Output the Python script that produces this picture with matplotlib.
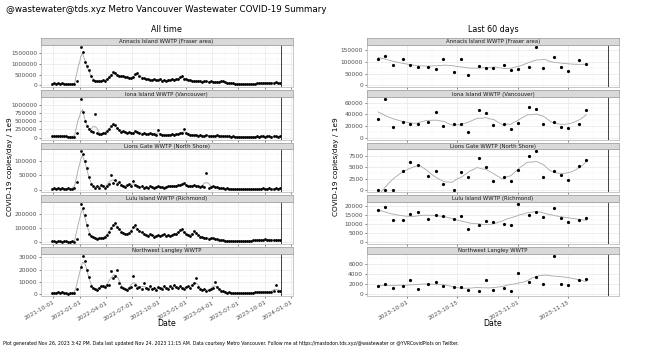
import matplotlib
matplotlib.use('Agg')
import matplotlib.pyplot as plt
import matplotlib.dates as mdates
from matplotlib.ticker import FixedLocator, FuncFormatter
import numpy as np
import pandas as pd

plt.rcParams['font.family'] = 'DejaVu Sans'

nan = np.nan
plants = ['Annacis Island WWTP (Fraser area)', 'Iona Island WWTP (Vancouver)',
          'Lions Gate WWTP (North Shore)', 'Lulu Island WWTP (Richmond)',
          'Northwest Langley WWTP']

# all time, one reading per week, thousands of copies/day / 1e9
all_dates = pd.date_range('2021-09-28', '2023-11-21', freq='7D')
annacis_all = [70, 85, 80, 90, 75, 95, 80, 70, 60, 45, 40, 50,
               180, nan, 1800, 1550, 1100, 900, 700, 450, 250, 200,
               220, 200, 190, 230, 210, 280, 380, 470, 600, 560,
               500, 430, 450, 420, 380, 400, 350, 330, 380, 520,
               580, 430, 350, 320, 290, 300, 260, 250, 280, 230,
               250, 270, 220, 240, 200, 260, 230, 270, 250, 300,
               280, 380, 430, 300, 280, 250, 230, 200, 220, 180,
               210, 190, 170, 200, 180, 160, 190, 150, 170, 160,
               170, 220, 180, 150, 120, 110, 100, 90, 80, 70,
               60, 55, 60, 50, 55, 60, 65, 70, 75, 85,
               95, 110, 100, 120, 110, 125, 105, 115, 130, 100, 110]
iona_all = [40, 55, 50, 45, 60, 40, 50, 35, 30, 25, 20, 30,
            130, nan, 1190, 800, 520, 350, 250, 200, 160, 730,
            140, 120, 110, 130, 150, 200, 280, 350, 430, 380,
            300, 220, 180, 200, 160, 150, 170, 130, 150, 200,
            180, 140, 120, 130, 110, 120, 150, 100, 110, 90,
            230, 100, 80, 90, 70, 80, 90, 100, 85, 110,
            120, 130, 150, 250, 130, 100, 90, 80, 70, 90,
            60, 70, 60, 55, 70, 60, 50, 55, 60, 70,
            50, 45, 40, 50, 40, 35, 30, 35, 25, 30,
            25, 20, 25, 30, 20, 25, 30, 25, 30, 35,
            30, 40, 35, 30, 40, 35, 30, 45, 35, 30, 35]
lions_all = [3, 5, 4, 6, 3, 5, 4, 3, 5, 4, 3, 6,
             28, nan, 134, 125, 100, 75, 45, 20, 12, 8,
             15, 5, 18, 12, 8, 15, 20, 52, 25, 36,
             22, 28, 18, 14, 10, 16, 20, 12, 30, 18,
             14, 10, 12, 8, 10, 7, 12, 9, 8, 10,
             12, 9, 11, 8, 10, 12, 14, 15, 13, 12,
             16, 18, 20, 24, 16, 14, 12, 15, 18, 14,
             12, 10, 14, 9, 58, 8, 10, 12, 11, 9,
             7, 6, 5, 4, 5, 3, 4, 3, 2, 3,
             2, 2, 3, 2, 2, 3, 2, 3, 4, 3,
             4, 3, 5, 4, 3, 5, 4, 3, 6, 4, 5]
lulu_all = [5, 6, 4, 5, 7, 4, 5, 6, 4, 3, 5, 4,
            20, nan, 272, 240, 190, 120, 60, 45, 35, 30,
            25, 28, 32, 30, 38, 50, 75, 100, 120, 135,
            110, 90, 75, 65, 60, 55, 65, 80, 110, 120,
            90, 80, 70, 55, 50, 45, 55, 48, 40, 45,
            50, 42, 48, 55, 45, 50, 42, 48, 55, 60,
            70, 85, 90, 70, 55, 50, 45, 60, 80, 65,
            50, 40, 35, 30, 28, 25, 30, 28, 25, 20,
            18, 15, 12, 10, 8, 10, 7, 8, 6, 8,
            7, 6, 8, 10, 9, 8, 10, 12, 14, 16,
            15, 18, 16, 20, 17, 15, 18, 16, 14, 17, 15]
nwl_all = [1.0, 1.5, 0.8, 1.8, 1.2, 2.0, 1.0, 1.5, 0.7, 1.2, 0.9, 1.4,
           4.0, nan, 22.0, 31.0, 27.0, 20.0, 14.0, 7.0, 5.0, 4.0,
           3.5, 5.5, 6.5, 7.0, 6.0, 7.5, 8.0, 18.5, 13.0, 15.0,
           20.0, 9.0, 6.0, 5.0, 4.0, 3.5, 5.0, 6.0, 15.0, 8.0,
           5.5, 6.0, 4.5, 9.5, 5.0, 4.0, 6.5, 4.5, 5.0, 3.5,
           6.0, 5.5, 4.0, 7.0, 5.0, 4.5, 6.5, 5.0, 7.5, 6.0,
           5.0, 6.5, 5.5, 4.5, 6.0, 7.0, 5.0, 8.0, 9.0, 13.0,
           6.0, 4.0, 3.5, 4.0, 3.0, 3.5, 4.5, 5.0, 10.0, 6.0,
           4.0, 3.0, 2.5, 2.0, 1.5, 2.0, 1.2, 1.0, 1.3, 0.9,
           1.1, 0.8, 1.2, 1.0, 1.4, 1.1, 1.5, 1.3, 1.8, 1.6,
           2.0, 1.8, 2.2, 2.0, 1.7, 2.3, 2.0, 2.5, 7.5, 2.5, 3.0]

# last 60 days (Sat / Mon / Wed samples)
recent_dates = pd.to_datetime(['2023-09-23', '2023-09-25', '2023-09-27', '2023-09-30',
                               '2023-10-02', '2023-10-04', '2023-10-07', '2023-10-09',
                               '2023-10-11', '2023-10-14', '2023-10-16', '2023-10-18',
                               '2023-10-21', '2023-10-23', '2023-10-25', '2023-10-28',
                               '2023-10-30', '2023-11-01', '2023-11-04', '2023-11-06',
                               '2023-11-08', '2023-11-11', '2023-11-13', '2023-11-15',
                               '2023-11-18', '2023-11-20'])
annacis_60 = [112000, 125000, 88000, 110000, 85000, 79000, 79000, 71000, 111000, 58000,
              112000, 45000, 82000, 75000, 75000, 87000, 65000, 68000, 76000, 164000,
              74000, 120000, 76000, 61000, 108000, 89000]
iona_60 = [31000, 66000, 18000, 27000, 23500, 23500, 26500, 43000, 20000, 23500,
           24000, 9400, 48000, 42000, 22000, 24000, 14700, 25000, 52000, 49000,
           23000, 27000, 17600, 17000, 23500, 47000]
lions_60 = [0, 0, 0, 4240, 6290, 5530, 3030, 4240, 1360, 0,
            4015, 2880, 7120, 5000, 1970, 2880, 1890, 4390, 7575, 8560,
            2800, 4090, 3260, 2120, 5380, 6590]
lulu_60 = [17900, 19200, 12400, 12400, 15600, 16400, 13000, 14900, 14300, 13000,
           14500, 7200, 9700, 11800, 10900, 10100, 9300, 21300, 15200, 16400,
           13700, 18900, 13300, 11200, 12000, 13100]
nwl_60 = [1730, 2000, 1270, 1670, 2730, 1070, 2070, 2470, 1670, 1400,
          1470, 870, 730, 2730, 930, 1330, 600, 4130, 2330, 3330,
          2000, 7470, 2000, 1800, 2870, 2930]

today = pd.Timestamp('2023-11-26')

left_yticks = [[0, 500000, 1000000, 1500000],
               [0, 250000, 500000, 750000, 1000000, 1250000],
               [0, 50000, 100000],
               [0, 100000, 200000],
               [0, 10000, 20000, 30000]]
right_yticks = [[0, 50000, 100000, 150000],
                [0, 20000, 40000, 60000],
                [0, 2500, 5000, 7500],
                [0, 5000, 10000, 15000, 20000],
                [0, 2000, 4000, 6000]]
left_xticks = pd.date_range('2021-10-01', '2024-01-01', freq='QS-OCT')
right_xticks = pd.to_datetime(['2023-10-01', '2023-10-15', '2023-11-01', '2023-11-15'])


def loess(x, y, xs, frac, deg):
    x = np.asarray(x, float)
    y = np.asarray(y, float)
    ok = ~np.isnan(y)
    x, y = x[ok], y[ok]
    q = max(int(np.ceil(frac * len(x))), deg + 2)
    out = []
    for x0 in xs:
        d = np.abs(x - x0)
        h = np.sort(d)[q - 1]
        w = np.clip(1 - (d / h) ** 3, 0, 1) ** 3
        c = np.polyfit(x - x0, y, deg, w=np.sqrt(w))
        out.append(c[-1])
    return np.array(out)


def mids(ticks):
    t = np.asarray(ticks, float)
    step = np.diff(t)
    m = list(t[:-1] + step / 2)
    m = [t[0] - step[0] / 2] + m + [t[-1] + step[-1] / 2]
    return m


W, H = 652, 353
fig = plt.figure(figsize=(W / 100, H / 100), dpi=100)

all_series = [np.array(s) * 1000 for s in [annacis_all, iona_all, lions_all, lulu_all, nwl_all]]
recent_series = [np.array(s, float) for s in [annacis_60, iona_60, lions_60, lulu_60, nwl_60]]

cols = [
    dict(x0=40.7, x1=292.5, dates=all_dates, series=all_series, yt=left_yticks,
         xt=left_xticks, ms=2.0, frac=0.05, deg=1, title='All time'),
    dict(x0=366.7, x1=619.3, dates=recent_dates, series=recent_series, yt=right_yticks,
         xt=right_xticks, ms=2.3, frac=0.42, deg=2, title='Last 60 days'),
]

for col in cols:
    x0, x1 = col['x0'], col['x1']
    xnum = mdates.date2num(col['dates'])
    tnum = mdates.date2num(today)
    span = tnum - xnum.min()
    xlim = (xnum.min() - 0.05 * span, tnum + 0.05 * span)
    xt = mdates.date2num(col['xt'])
    for k in range(5):
        st = 38 + k * 52.3
        sb = st + 6.8
        pb = sb + 42.4
        ax = fig.add_axes([x0 / W, 1 - pb / H, (x1 - x0) / W, (pb - sb) / H])
        sax = fig.add_axes([x0 / W, 1 - sb / H, (x1 - x0) / W, (sb - st) / H])
        sax.set_facecolor('#d9d9d9')
        sax.set_xticks([])
        sax.set_yticks([])
        for s in sax.spines.values():
            s.set_color('#a6a6a6')
            s.set_linewidth(0.6)
        sax.text(0.5, 0.45, plants[k], ha='center', va='center', fontsize=3.9,
                 color='#1a1a1a', transform=sax.transAxes)

        y = col['series'][k]
        xs = np.linspace(xnum.min(), xnum.max(), 400)
        sm = loess(xnum, y, xs, col['frac'], col['deg'])
        hi = np.nanmax(y)
        ax.set_ylim(-0.05 * hi, 1.05 * hi)
        ax.set_xlim(*xlim)

        ax.plot(xs, sm, color='#a8a8a8', lw=0.6, zorder=2)
        ax.plot(xnum, y, 'o', color='black', ms=col['ms'], mew=0, zorder=3)
        ax.axvline(tnum, color='#222222', lw=0.6, zorder=4)

        ax.xaxis.set_major_locator(FixedLocator(xt))
        ax.xaxis.set_minor_locator(FixedLocator(mids(xt)))
        ax.yaxis.set_major_locator(FixedLocator(col['yt'][k]))
        ax.yaxis.set_minor_locator(FixedLocator(mids(col['yt'][k])))
        ax.yaxis.set_major_formatter(FuncFormatter(lambda v, p: '%d' % v))
        ax.grid(which='major', color='#ebebeb', lw=0.6, zorder=0)
        ax.grid(which='minor', color='#f4f4f4', lw=0.35, zorder=0)
        ax.set_axisbelow(True)
        for s in ax.spines.values():
            s.set_color('#bdbdbd')
            s.set_linewidth(0.6)
        ax.tick_params(which='major', length=1.6, width=0.5, color='#4d4d4d',
                       labelsize=4.2, labelcolor='#4d4d4d', pad=1)
        ax.tick_params(which='minor', length=0)
        if k < 4:
            ax.set_xticklabels([])
        else:
            ax.set_xticklabels([d.strftime('%Y-%m-%d') for d in col['xt']],
                               rotation=30, ha='right', rotation_mode='anchor')

    cx = (x0 + x1) / 2
    fig.text(cx / W, 1 - 30 / H, col['title'], ha='center', va='center', fontsize=5.8)
    fig.text(cx / W, 1 - 323.5 / H, 'Date', ha='center', va='center', fontsize=5.6)
    fig.text((x0 - 30.5) / W, 1 - 167 / H, 'COVID-19 copies/day / 1e9', rotation=90,
             ha='center', va='center', fontsize=5.3)

fig.text(6 / W, 1 - 9 / H, '@wastewater@tds.xyz Metro Vancouver Wastewater COVID-19 Summary',
         ha='left', va='center', fontsize=6.3)
fig.text(3 / W, 1 - 343 / H,
         'Plot generated Nov 26, 2023 3:42 PM. Data last updated Nov 24, 2023 11:15 AM. '
         'Data courtesy Metro Vancouver. Follow me at https://mastodon.tds.xyz/@wastewater '
         'or @YVRCovidPlots on Twitter.', ha='left', va='center', fontsize=3.3)

fig.savefig('out.png', dpi=100)
